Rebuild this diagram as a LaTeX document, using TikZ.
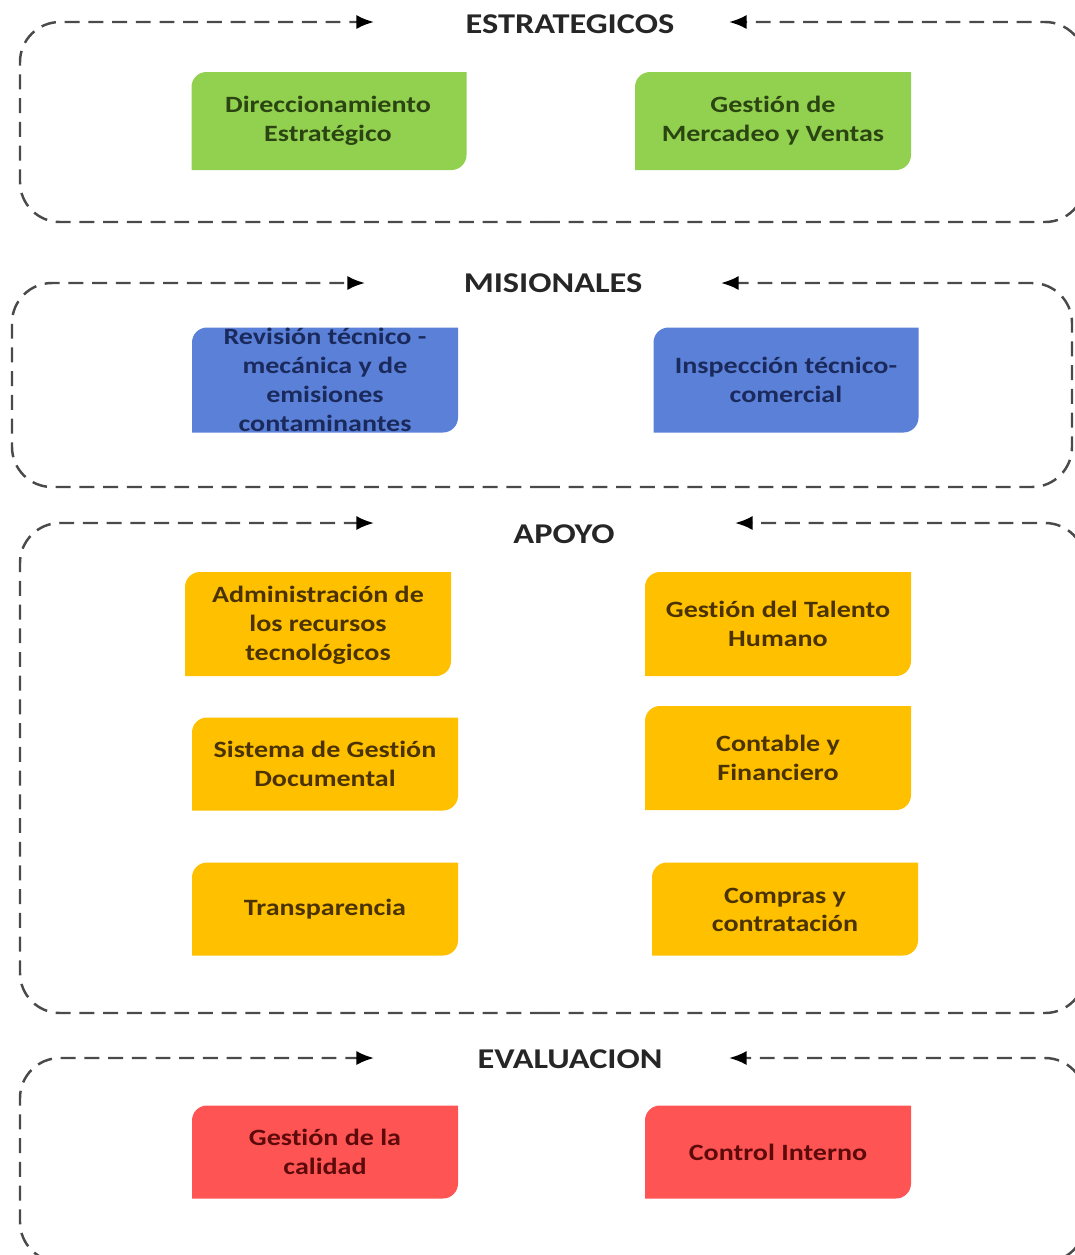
\documentclass[tikz,border=0pt]{standalone}
\usepackage{fontspec}
\setmainfont{Carlito}[FakeStretch=1.2, Ligatures={NoCommon,NoContextual,NoRare}, Contextuals=NoAlternate]
\usetikzlibrary{arrows.meta,backgrounds,calc}

\definecolor{verde}{HTML}{92D050}
\definecolor{verdeT}{HTML}{2B4512}
\definecolor{azul}{HTML}{5B80D8}
\definecolor{azulT}{HTML}{1B2A5C}
\definecolor{oro}{HTML}{FFC000}
\definecolor{oroT}{HTML}{4A3300}
\definecolor{rojo}{HTML}{FF5454}
\definecolor{rojoT}{HTML}{5C0A0A}
\definecolor{marcoC}{HTML}{4A4A4A}

\begin{document}
\begin{tikzpicture}[
		x=0.02cm, y=-0.02cm,
		titulo/.style = {font=\bfseries\fontsize{16.3}{19}\selectfont, text=black!85, inner sep=0pt},
		proc/.style   = {font=\bfseries\fontsize{13.3}{16.4}\selectfont, align=center, inner sep=0pt},
		marco/.style  = {draw=marcoC, line width=1.4pt, dash pattern=on 8.5pt off 5pt,
			rounded corners=0.8cm, -{Latex[length=10pt,width=8pt,color=black]}}]
		
		\useasboundingbox (0,0) rectangle (1075,1255);
		\clip (0,0) rectangle (1075,1255);
		
		% titles of the four groups
		\node[titulo] (tEst) at (570,24)   {ESTRATEGICOS};
		\node[titulo] (tMis) at (553,283)  {MISIONALES};
		\node[titulo] (tApo) at (564,534)  {APOYO};
		\node[titulo] (tEva) at (570,1059) {EVALUACION};
		
		% dashed frames, two arrows each pointing at the title
		\foreach \t/\b/\l/\r/\xl/\xr in {22/222/20/1085/374/729, 283/487/12/1072/365/721,
			523/1013/20/1085/374/735, 1058/1262/20/1085/374/729}
		{
			\draw[marco] (545,\b) -- (\l,\b) -- (\l,\t) -- (\xl,\t);
			\draw[marco] (545,\b) -- (\r,\b) -- (\r,\t) -- (\xr,\t);
		}
		
		% process boxes
		\node[proc, text=verdeT] (d1) at (328,121) {Direccionamiento\\Estratégico};
		\node[proc, text=verdeT] (d2) at (773,121) {Gestión de\\Mercadeo y Ventas};
		
		\node[proc, text=azulT] (m1) at (325,380) {Revisión técnico -\\mecánica y de\\emisiones\\contaminantes};
		\node[proc, text=azulT] (m2) at (786,380) {Inspección técnico-\\comercial};
		
		\node[proc, text=oroT] (a1) at (318,625) {Administración de\\los recursos\\tecnológicos};
		\node[proc, text=oroT] (a2) at (778,624) {Gestión del Talento\\Humano};
		\node[proc, text=oroT] (a3) at (325,764) {Sistema de Gestión\\Documental};
		\node[proc, text=oroT] (a4) at (778,758) {Contable y\\Financiero};
		\node[proc, text=oroT] (a5) at (325,909) {Transparencia};
		\node[proc, text=oroT] (a6) at (785,910) {Compras y\\contratación};
		
		\node[proc, text=rojoT] (e1) at (325,1152) {Gestión de la\\calidad};
		\node[proc, text=rojoT] (e2) at (778,1152) {Control Interno};
		
		% fills behind the texts: top left and bottom right corners rounded
		\begin{scope}[on background layer]
		\foreach \n/\c/\x/\y/\w/\h in {d1/verde/329/121/275/98, d2/verde/773/121/276/98,
			m1/azul/325/380/266/105, m2/azul/786/380/265/105,
			a1/oro/318/624/266/104, a2/oro/778/624/266/104,
			a3/oro/325/764/266/93, a4/oro/778/758/266/104,
			a5/oro/325/909/266/93, a6/oro/785/909/266/93,
			e1/rojo/325/1152/266/93, e2/rojo/778/1152/266/93}
		\fill[\c] ({\x-\w/2},{\y+\h/2}) -- ({\x-\w/2},{\y-\h/2+15})
			arc[start angle=180, end angle=90, radius=0.3cm]
			-- ({\x+\w/2},{\y-\h/2}) -- ({\x+\w/2},{\y+\h/2-15})
			arc[start angle=0, end angle=-90, radius=0.3cm] -- cycle;
		\end{scope}
		
\end{tikzpicture}
\end{document}
